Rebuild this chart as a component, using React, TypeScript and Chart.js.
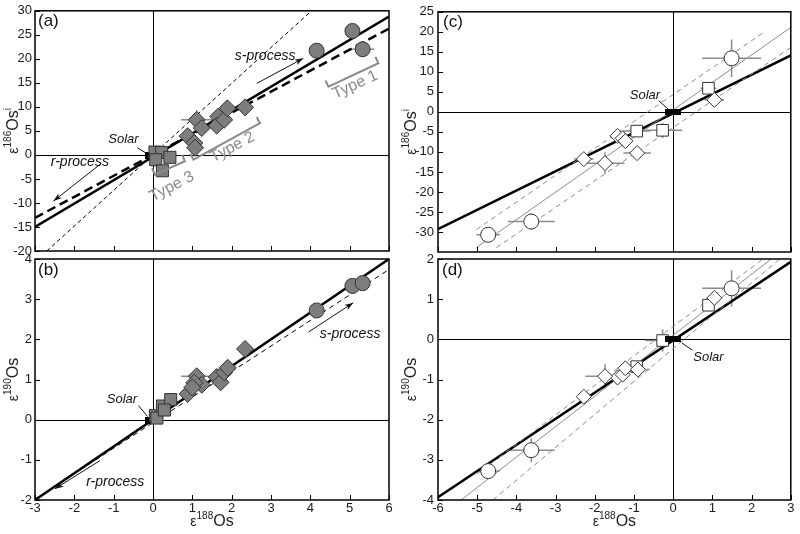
import React, { useEffect, useRef } from "react";
import { Chart, registerables } from "chart.js";
Chart.register(...registerables);

type P = [number, number];
type E = [number, number, number, number]; // x, y, xErr, yErr

const FONT = '"Liberation Sans", Arial, Helvetica, sans-serif';

// ---------- tick values ----------
const xTicksLeft = [-3, -2, -1, 0, 1, 2, 3, 4, 5, 6];
const xTicksRight = [-6, -5, -4, -3, -2, -1, 0, 1, 2, 3];
const yTicksA = [-20, -15, -10, -5, 0, 5, 10, 15, 20, 25, 30];
const yTicksB = [-2, -1, 0, 1, 2, 3, 4];
const yTicksC = [-30, -25, -20, -15, -10, -5, 0, 5, 10, 15, 20, 25];
const yTicksD = [-4, -3, -2, -1, 0, 1, 2];

// axis titles: [text, superscript?] segments
type Seg = [string, boolean];
const titleEps186: Seg[] = [["ε", false], ["186", true], ["Os", false], ["i", true]];
const titleEps190: Seg[] = [["ε", false], ["190", true], ["Os", false]];
const titleEps188: Seg[] = [["ε", false], ["188", true], ["Os", false]];

// ---------- panel (a) ----------
const aType1: P[] = [[4.16, 21.7], [5.07, 25.8], [5.33, 22.0]];
const aType2: P[] = [[1.11, 7.3], [1.24, 5.6], [0.88, 3.9], [1.05, 2.5], [1.07, 1.5], [1.66, 8.0], [1.62, 6.1], [1.81, 7.3], [1.89, 9.7], [2.34, 9.9]];
const aType3: P[] = [[0.05, 0.6], [0.22, 0.5], [0.07, -1.0], [0.43, -0.5], [0.24, -3.3]];
const aSolar: P[] = [[-0.05, -0.1]];
const aFitSolid: P[] = [[-3, -15.0], [6, 28.8]];
const aFitDashBold: P[] = [[-3, -13.1], [6, 26.3]];
const aFitDashThin: P[] = [[-2.7, -20], [4.03, 30]];
const aErr: E[] = [[1.11, 7.3, 0.4, 2.0], [5.33, 22.0, 0.3, 0]];

// ---------- panel (b) ----------
const bType1: P[] = [[4.16, 2.72], [5.07, 3.33], [5.33, 3.4]];
const bType2: P[] = [[1.11, 1.08], [1.24, 0.87], [0.88, 0.64], [1.05, 0.92], [1.0, 0.8], [1.62, 1.06], [1.72, 0.93], [1.81, 1.18], [1.9, 1.29], [2.34, 1.76]];
const bType3: P[] = [[0.06, 0.1], [0.24, 0.34], [0.1, 0.04], [0.45, 0.5], [0.29, 0.24]];
const bSolar: P[] = [[-0.05, -0.02]];
const bFitSolid: P[] = [[-3, -2.0], [6, 4.0]];
const bFitDash: P[] = [[-3, -1.98], [6, 3.74]];
const bErr: E[] = [[1.11, 1.08, 0.4, 0]];

// ---------- panel (c) ----------
const cCircles: P[] = [[-4.72, -30.7], [-3.62, -27.4], [1.49, 13.4]];
const cSquares: P[] = [[0.9, 5.9], [-0.93, -4.8], [-0.27, -4.6]];
const cDiamonds: P[] = [[1.05, 3.0], [-1.42, -6.0], [-1.29, -6.6], [-1.22, -7.3], [-0.92, -10.3], [-1.74, -12.8], [-2.28, -11.8]];
const cSolar: P[] = [[0, 0]];
const cFitSolid: P[] = [[-6, -29.3], [3, 14.1]];
const cFitGray: P[] = [[-5.02, -33.9], [3, 21.1]];
const cBandUpper: P[] = [[-5.02, -29.4], [2.36, 20.2]];
const cBandLower: P[] = [[-4.51, -33.9], [3, 16.1]];
const cErr: E[] = [
  [-4.72, -30.7, 0.3, 1.0], [-3.62, -27.4, 0.6, 2.1], [1.49, 13.4, 0.75, 4.7],
  [-0.27, -4.6, 0.5, 1.9], [-0.93, -4.8, 0.35, 0.5], [-1.74, -12.8, 0.5, 2.7],
  [-0.92, -10.3, 0.35, 0.8], [-2.28, -11.8, 0.25, 0.5], [0.9, 5.9, 0.2, 0.6], [1.05, 3.0, 0.25, 0.5],
];

// ---------- panel (d) ----------
const dCircles: P[] = [[-4.72, -3.28], [-3.62, -2.76], [1.49, 1.27]];
const dSquares: P[] = [[0.9, 0.85], [-0.93, -0.68], [-0.27, -0.03]];
const dDiamonds: P[] = [[1.05, 1.03], [-1.42, -0.95], [-1.29, -0.88], [-1.22, -0.72], [-0.9, -0.75], [-1.74, -0.92], [-2.28, -1.43]];
const dSolar: P[] = [[0, 0]];
const dFitSolid: P[] = [[-6, -3.93], [3, 1.93]];
const dFitGray: P[] = [[-5.41, -4.0], [2.5, 2.0]];
const dBandUpper: P[] = [[-5.0, -3.35], [2.29, 2.0]];
const dBandLower: P[] = [[-4.6, -4.0], [2.72, 2.0]];
const dErr: E[] = [
  [-4.72, -3.28, 0.3, 0.1], [-3.62, -2.76, 0.6, 0.3], [1.49, 1.27, 0.75, 0.45],
  [-0.27, -0.03, 0.45, 0.28], [-1.74, -0.92, 0.5, 0.3], [-0.9, -0.75, 0.3, 0.15], [1.05, 1.03, 0.2, 0.1],
];

// ---------- styling ----------
const GRAY_FILL = "#7d7d7d";
const DARK = "#333333";
const LINE_GRAY = "#8c8c8c";
const ANN_GRAY = "#8a8a8a";

type Ann =
  | { t: "text"; x: number; y: number; s: string; italic?: boolean; size?: number; color?: string; rot?: number }
  | { t: "arrow"; x1: number; y1: number; x2: number; y2: number }
  | { t: "line"; x1: number; y1: number; x2: number; y2: number }
  | { t: "bracket"; x1: number; y1: number; x2: number; y2: number };

interface LineSpec { pts: P[]; color: string; width: number; dash?: number[] }
interface MarkSpec { pts: P[]; style: any; r: number; fill: string; stroke: string }
interface PanelCfg {
  box: { l: number; t: number; w: number; h: number };
  pad: { top: number; right: number };
  yW: number; xH: number;
  xMin: number; xMax: number; yMin: number; yMax: number;
  xTicks: number[]; yTicks: number[];
  showX: boolean; yTitle: Seg[]; xTitle?: Seg[]; yTitleX: number; yTickPad: number;
  lines: LineSpec[]; marks: MarkSpec[]; err: E[]; ann: Ann[];
  label: string; labelDx: number; labelDy: number;
}

function solarImg(w: number, h: number) {
  const c = document.createElement("canvas");
  c.width = w; c.height = h;
  const g = c.getContext("2d")!;
  g.fillStyle = "#000";
  g.fillRect(0, 0, w, h);
  return c;
}

// draws a title made of normal + superscript segments, centred on (0,0)
function drawRich(ctx: CanvasRenderingContext2D, segs: Seg[]) {
  const fontFor = (s: string, sup: boolean) =>
    sup ? `10px ${FONT}` : s === "ε" ? `14px ${FONT}` : `16px ${FONT}`;
  let total = 0;
  const widths = segs.map(([s, sup]) => {
    ctx.font = fontFor(s, sup);
    const w = ctx.measureText(s).width;
    total += w;
    return w;
  });
  let x = -total / 2;
  ctx.textAlign = "left";
  ctx.textBaseline = "alphabetic";
  segs.forEach(([s, sup], i) => {
    ctx.font = fontFor(s, sup);
    ctx.fillText(s, x, sup ? -1 : 6);
    x += widths[i];
  });
}

function makePlugin(p: PanelCfg) {
  return {
    id: "decor",
    beforeDatasetsDraw(chart: any) {
      const { ctx, chartArea: a, scales } = chart;
      const xs = scales.x, ys = scales.y;
      ctx.save();
      ctx.strokeStyle = "#000";
      ctx.lineWidth = 1;
      const x0 = Math.round(xs.getPixelForValue(0)) + 0.5;
      const y0 = Math.round(ys.getPixelForValue(0)) + 0.5;
      ctx.beginPath();
      ctx.moveTo(x0, a.top); ctx.lineTo(x0, a.bottom);
      ctx.moveTo(a.left, y0); ctx.lineTo(a.right, y0);
      ctx.stroke();
      ctx.strokeStyle = LINE_GRAY;
      ctx.lineWidth = 1.5;
      ctx.beginPath();
      for (const [ex, ey, dx, dy] of p.err) {
        if (dx > 0) {
          const py = ys.getPixelForValue(ey);
          ctx.moveTo(xs.getPixelForValue(ex - dx), py);
          ctx.lineTo(xs.getPixelForValue(ex + dx), py);
        }
        if (dy > 0) {
          const px = xs.getPixelForValue(ex);
          ctx.moveTo(px, ys.getPixelForValue(ey - dy));
          ctx.lineTo(px, ys.getPixelForValue(ey + dy));
        }
      }
      ctx.stroke();
      ctx.restore();
    },
    afterDatasetsDraw(chart: any) {
      const { ctx, chartArea: a, scales } = chart;
      const xs = scales.x, ys = scales.y;
      const X = (v: number) => xs.getPixelForValue(v);
      const Y = (v: number) => ys.getPixelForValue(v);
      ctx.save();
      // frame
      ctx.strokeStyle = "#000";
      ctx.lineWidth = 1.5;
      ctx.strokeRect(a.left, a.top, a.right - a.left, a.bottom - a.top);
      // inward ticks
      ctx.lineWidth = 1;
      ctx.beginPath();
      for (const v of p.xTicks) {
        const px = Math.round(X(v)) + 0.5;
        ctx.moveTo(px, a.bottom); ctx.lineTo(px, a.bottom - 5);
      }
      for (const v of p.yTicks) {
        const py = Math.round(Y(v)) + 0.5;
        ctx.moveTo(a.left, py); ctx.lineTo(a.left + 5, py);
      }
      ctx.stroke();
      // annotations
      for (const an of p.ann) {
        if (an.t === "text") {
          ctx.save();
          ctx.translate(X(an.x), Y(an.y));
          if (an.rot) ctx.rotate((an.rot * Math.PI) / 180);
          ctx.font = `${an.italic ? "italic " : ""}${an.size || 14}px ${FONT}`;
          ctx.fillStyle = an.color || "#111";
          ctx.textAlign = "center";
          ctx.textBaseline = "middle";
          ctx.fillText(an.s, 0, 0);
          ctx.restore();
        } else if (an.t === "line" || an.t === "arrow") {
          const x1 = X(an.x1), y1 = Y(an.y1), x2 = X(an.x2), y2 = Y(an.y2);
          ctx.strokeStyle = "#111";
          ctx.fillStyle = "#111";
          ctx.lineWidth = 1;
          ctx.beginPath(); ctx.moveTo(x1, y1); ctx.lineTo(x2, y2); ctx.stroke();
          if (an.t === "arrow") {
            const ang = Math.atan2(y2 - y1, x2 - x1);
            const L = 9, w = 0.33;
            ctx.beginPath();
            ctx.moveTo(x2, y2);
            ctx.lineTo(x2 - L * Math.cos(ang - w), y2 - L * Math.sin(ang - w));
            ctx.lineTo(x2 - L * 0.7 * Math.cos(ang), y2 - L * 0.7 * Math.sin(ang));
            ctx.lineTo(x2 - L * Math.cos(ang + w), y2 - L * Math.sin(ang + w));
            ctx.closePath(); ctx.fill();
          }
        } else if (an.t === "bracket") {
          const x1 = X(an.x1), y1 = Y(an.y1), x2 = X(an.x2), y2 = Y(an.y2);
          const len = Math.hypot(x2 - x1, y2 - y1);
          const dx = (x2 - x1) / len, dy = (y2 - y1) / len;
          const nx = dy, ny = -dx;
          const T = 7;
          ctx.strokeStyle = ANN_GRAY;
          ctx.lineWidth = 2;
          ctx.beginPath();
          ctx.moveTo(x1 + nx * T, y1 + ny * T);
          ctx.lineTo(x1, y1); ctx.lineTo(x2, y2);
          ctx.lineTo(x2 + nx * T, y2 + ny * T);
          ctx.stroke();
        }
      }
      // panel label
      ctx.font = `17px ${FONT}`;
      ctx.fillStyle = "#111";
      ctx.textAlign = "left";
      ctx.textBaseline = "top";
      ctx.fillText(p.label, a.left + p.labelDx, a.top + p.labelDy);
      // axis titles (with superscripts)
      ctx.fillStyle = "#222";
      ctx.save();
      ctx.translate(p.yTitleX, (a.top + a.bottom) / 2);
      ctx.rotate(-Math.PI / 2);
      drawRich(ctx, p.yTitle);
      ctx.restore();
      if (p.xTitle) {
        ctx.save();
        ctx.translate((a.left + a.right) / 2, chart.height - 14);
        drawRich(ctx, p.xTitle);
        ctx.restore();
      }
      ctx.restore();
    },
  };
}

function buildConfig(p: PanelCfg): any {
  const datasets: any[] = [
    ...p.lines.map((l) => ({
      data: l.pts.map(([x, y]) => ({ x, y })),
      showLine: true,
      borderColor: l.color,
      borderWidth: l.width,
      borderDash: l.dash || [],
      pointRadius: 0,
      pointHoverRadius: 0,
      fill: false,
      tension: 0,
      order: 10,
    })),
    ...p.marks.map((m) => ({
      data: m.pts.map(([x, y]) => ({ x, y })),
      showLine: false,
      pointStyle: m.style,
      pointRadius: m.r,
      pointHoverRadius: m.r,
      pointBackgroundColor: m.fill,
      pointBorderColor: m.stroke,
      pointBorderWidth: 1,
      order: 1,
    })),
  ];
  const tickFont = { family: FONT, size: 13 };
  return {
    type: "scatter",
    data: { datasets },
    options: {
      responsive: false,
      animation: false,
      devicePixelRatio: 1,
      events: [],
      layout: { padding: { top: p.pad.top, right: p.pad.right, left: 0, bottom: 0 } },
      plugins: { legend: { display: false }, tooltip: { enabled: false } },
      scales: {
        x: {
          type: "linear",
          min: p.xMin,
          max: p.xMax,
          afterBuildTicks: (s: any) => { s.ticks = p.xTicks.map((v) => ({ value: v })); },
          afterFit: (s: any) => { s.height = p.xH; },
          grid: { display: false, drawTicks: false },
          border: { display: false },
          ticks: { display: p.showX, font: tickFont, color: "#1a1a1a", padding: 1, maxRotation: 0, autoSkip: false },
          title: { display: false },
        },
        y: {
          type: "linear",
          min: p.yMin,
          max: p.yMax,
          afterBuildTicks: (s: any) => { s.ticks = p.yTicks.map((v) => ({ value: v })); },
          afterFit: (s: any) => { s.width = p.yW; },
          grid: { display: false, drawTicks: false },
          border: { display: false },
          ticks: { font: tickFont, color: "#1a1a1a", padding: p.yTickPad, autoSkip: false },
          title: { display: false },
        },
      },
    },
    plugins: [makePlugin(p)],
  };
}

function Panel({ cfg }: { cfg: PanelCfg }) {
  const ref = useRef<HTMLCanvasElement>(null);
  useEffect(() => {
    const chart = new Chart(ref.current as HTMLCanvasElement, buildConfig(cfg));
    return () => chart.destroy();
  }, []);
  const b = cfg.box;
  return (
    <canvas
      ref={ref}
      width={b.w}
      height={b.h}
      style={{ position: "absolute", left: b.l, top: b.t, width: b.w, height: b.h }}
    />
  );
}

function grayMarks(circ: P[], dia: P[], sq: P[], solar: P[], solarW: number): MarkSpec[] {
  return [
    { pts: sq, style: "rect", r: 8.5, fill: GRAY_FILL, stroke: DARK },
    { pts: dia, style: "rectRot", r: 8.5, fill: GRAY_FILL, stroke: DARK },
    { pts: circ, style: "circle", r: 7.5, fill: GRAY_FILL, stroke: DARK },
    { pts: solar, style: solarImg(solarW, 7), r: 5, fill: "#000", stroke: "#000" },
  ];
}
function whiteMarks(circ: P[], dia: P[], sq: P[], solar: P[]): MarkSpec[] {
  return [
    { pts: solar, style: solarImg(16, 6), r: 5, fill: "#000", stroke: "#000" },
    { pts: dia, style: "rectRot", r: 7.5, fill: "#fff", stroke: DARK },
    { pts: sq, style: "rect", r: 8.2, fill: "#fff", stroke: DARK },
    { pts: circ, style: "circle", r: 7.5, fill: "#fff", stroke: DARK },
  ];
}

const panelA: PanelCfg = {
  box: { l: 0, t: 0, w: 400, h: 265 },
  pad: { top: 9, right: 11 }, yW: 35, xH: 14,
  xMin: -3, xMax: 6, yMin: -20, yMax: 30, xTicks: xTicksLeft, yTicks: yTicksA,
  showX: false, yTitle: titleEps186, yTitleX: 12, yTickPad: 3,
  lines: [
    { pts: aFitDashThin, color: "#000", width: 1, dash: [4, 3] },
    { pts: aFitDashBold, color: "#000", width: 2.5, dash: [9, 5] },
    { pts: aFitSolid, color: "#000", width: 2.5 },
  ],
  marks: grayMarks(aType1, aType2, aType3, aSolar, 12),
  err: aErr,
  ann: [
    { t: "bracket", x1: 4.46, y1: 14.2, x2: 5.73, y2: 19.1 },
    { t: "text", x: 5.14, y: 14.6, s: "Type 1", size: 16, color: ANN_GRAY, rot: -25 },
    { t: "bracket", x1: 1.03, y1: -1.0, x2: 2.72, y2: 6.6 },
    { t: "text", x: 2.02, y: 1.6, s: "Type 2", size: 16, color: ANN_GRAY, rot: -28 },
    { t: "bracket", x1: 0.05, y1: -4.1, x2: 0.81, y2: -1.3 },
    { t: "text", x: 0.48, y: -6.6, s: "Type 3", size: 16, color: ANN_GRAY, rot: -28 },
    { t: "arrow", x1: 2.64, y1: 14.9, x2: 3.82, y2: 20.1 },
    { t: "text", x: 2.85, y: 20.6, s: "s-process", italic: true, size: 14 },
    { t: "arrow", x1: -1.35, y1: -2.0, x2: -2.53, y2: -9.6 },
    { t: "text", x: -1.86, y: -1.6, s: "r-process", italic: true, size: 14 },
    { t: "line", x1: -0.4, y1: 1.5, x2: -0.08, y2: -0.1 },
    { t: "text", x: -0.75, y: 3.3, s: "Solar", italic: true, size: 13 },
  ],
  label: "(a)", labelDx: 3, labelDy: 2,
};

const panelB: PanelCfg = {
  box: { l: 0, t: 245, w: 400, h: 289 },
  pad: { top: 14, right: 11 }, yW: 35, xH: 34,
  xMin: -3, xMax: 6, yMin: -2, yMax: 4, xTicks: xTicksLeft, yTicks: yTicksB,
  showX: true, yTitle: titleEps190, xTitle: titleEps188, yTitleX: 12, yTickPad: 3,
  lines: [
    { pts: bFitDash, color: "#000", width: 1, dash: [5, 4] },
    { pts: bFitSolid, color: "#000", width: 2.5 },
  ],
  marks: grayMarks(bType1, bType2, bType3, bSolar, 12),
  err: bErr,
  ann: [
    { t: "arrow", x1: 3.95, y1: 2.18, x2: 5.09, y2: 2.91 },
    { t: "text", x: 5.01, y: 2.13, s: "s-process", italic: true, size: 14 },
    { t: "arrow", x1: -1.35, y1: -1.02, x2: -2.49, y2: -1.72 },
    { t: "text", x: -0.96, y: -1.55, s: "r-process", italic: true, size: 14 },
    { t: "line", x1: -0.37, y1: 0.35, x2: -0.14, y2: 0.08 },
    { t: "text", x: -0.79, y: 0.51, s: "Solar", italic: true, size: 13 },
  ],
  label: "(b)", labelDx: 3, labelDy: 3,
};

const panelC: PanelCfg = {
  box: { l: 400, t: 0, w: 400, h: 265 },
  pad: { top: 9, right: 8 }, yW: 38, xH: 13,
  xMin: -6, xMax: 3, yMin: -35, yMax: 25, xTicks: xTicksRight, yTicks: yTicksC,
  showX: false, yTitle: titleEps186, yTitleX: 10, yTickPad: 4,
  lines: [
    { pts: cBandUpper, color: LINE_GRAY, width: 1, dash: [5, 4] },
    { pts: cBandLower, color: LINE_GRAY, width: 1, dash: [5, 4] },
    { pts: cFitGray, color: LINE_GRAY, width: 1 },
    { pts: cFitSolid, color: "#000", width: 2.5 },
  ],
  marks: whiteMarks(cCircles, cDiamonds, cSquares, cSolar),
  err: cErr,
  ann: [
    { t: "line", x1: -0.37, y1: 2.8, x2: -0.12, y2: 0.6 },
    { t: "text", x: -0.72, y: 4.2, s: "Solar", italic: true, size: 13 },
  ],
  label: "(c)", labelDx: 5, labelDy: 2,
};

const panelD: PanelCfg = {
  box: { l: 400, t: 245, w: 400, h: 289 },
  pad: { top: 14, right: 8 }, yW: 38, xH: 34,
  xMin: -6, xMax: 3, yMin: -4, yMax: 2, xTicks: xTicksRight, yTicks: yTicksD,
  showX: true, yTitle: titleEps190, xTitle: titleEps188, yTitleX: 10, yTickPad: 4,
  lines: [
    { pts: dBandUpper, color: LINE_GRAY, width: 1, dash: [5, 4] },
    { pts: dBandLower, color: LINE_GRAY, width: 1, dash: [5, 4] },
    { pts: dFitGray, color: LINE_GRAY, width: 1 },
    { pts: dFitSolid, color: "#000", width: 2.5 },
  ],
  marks: whiteMarks(dCircles, dDiamonds, dSquares, dSolar),
  err: dErr,
  ann: [
    { t: "line", x1: 0.22, y1: -0.09, x2: 0.49, y2: -0.27 },
    { t: "text", x: 0.9, y: -0.44, s: "Solar", italic: true, size: 13 },
  ],
  label: "(d)", labelDx: 4, labelDy: 3,
};

export default function App() {
  return (
    <div style={{ position: "absolute", left: 0, top: 0, width: 800, height: 534, background: "#fff", overflow: "hidden" }}>
      <Panel cfg={panelA} />
      <Panel cfg={panelB} />
      <Panel cfg={panelC} />
      <Panel cfg={panelD} />
    </div>
  );
}
